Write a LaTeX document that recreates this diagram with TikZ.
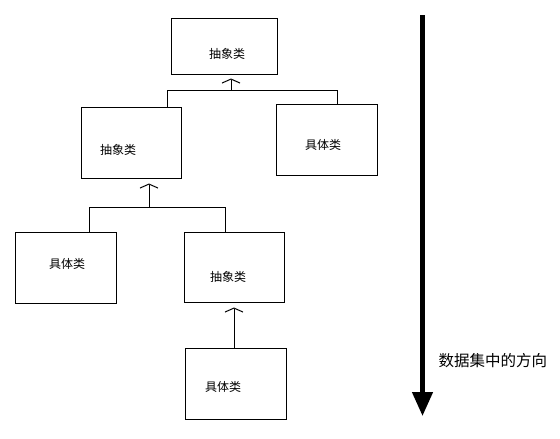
\documentclass[tikz,border=0pt]{standalone}
\usepackage{fontspec}
\usepackage{tikz}
\usetikzlibrary{arrows.meta}
\newfontfamily\cjk{Noto Sans CJK SC}
\tikzset{cls/.style = {draw, inner sep = 0, minimum width = 101pt, minimum height = 71pt}}
\tikzset{txt/.style = {inner sep = 0, font = \cjk\fontsize{12}{14}\selectfont}}
\tikzset{inherit/.style = {-{Straight Barb[length = 4pt, width = 18pt]}}}

\begin{document}
\begin{tikzpicture}[x = 1pt, y = -1pt, line width = 1pt]
    \useasboundingbox (0, 0) rectangle (560, 439);

    \node [cls, minimum width = 106pt, minimum height = 56pt, label = {[txt, xshift = 3pt, yshift = -8pt]center:抽象类}] (abs1) at (224, 46) {};
    \node [cls, minimum width = 100pt, label = {[txt, xshift = -13pt, yshift = -7.5pt]center:抽象类}] (abs2) at (131, 142.5) {};
    \node [cls, label = {[txt, xshift = -3.5pt, yshift = -5pt]center:具体类}] (con3) at (326.5, 140) {};
    \node [cls, label = {[txt, xshift = 1.5pt, yshift = 3.5pt]center:具体类}] (con4) at (65.5, 267.5) {};
    \node [cls, minimum width = 100pt, minimum height = 70pt, label = {[txt, xshift = -6pt, yshift = -10pt]center:抽象类}] (abs5) at (234, 267) {};
    \node [cls, label = {[txt, xshift = -12.5pt, yshift = -3.5pt]center:具体类}] (con6) at (235.5, 383.5) {};

    % first level
    \coordinate (bar1) at (231, 90);
    \coordinate (bar1l) at (167, 90);
    \coordinate (bar1r) at (337, 90);
    \draw (abs2.north -| bar1l) -- (bar1l) -- (bar1r) -- (con3.north -| bar1r);
    \draw [inherit, shorten >= 4pt] (bar1) -- (bar1 |- abs1.south);

    % second level
    \coordinate (bar2) at (149, 207);
    \coordinate (bar2l) at (89, 207);
    \coordinate (bar2r) at (225, 207);
    \draw (con4.north -| bar2l) -- (bar2l) -- (bar2r) -- (abs5.north -| bar2r);
    \draw [inherit, shorten >= 5pt] (bar2) -- (bar2 |- abs2.south);

    \draw [inherit, shorten >= 5pt] (con6.north -| abs5.south) -- (abs5.south);

    % direction
    \coordinate (flowtop) at (422.5, 15);
    \coordinate (flowend) at (422.5, 416);
    \draw [line width = 4.5pt, -{Triangle[length = 24pt, width = 20pt]}] (flowtop) -- (flowend);
    \node [inner sep = 0, anchor = west, font = \cjk\fontsize{15.5}{18}\selectfont] (flowtxt) at (438, 360.5) {数据集中的方向};
\end{tikzpicture}
\end{document}
